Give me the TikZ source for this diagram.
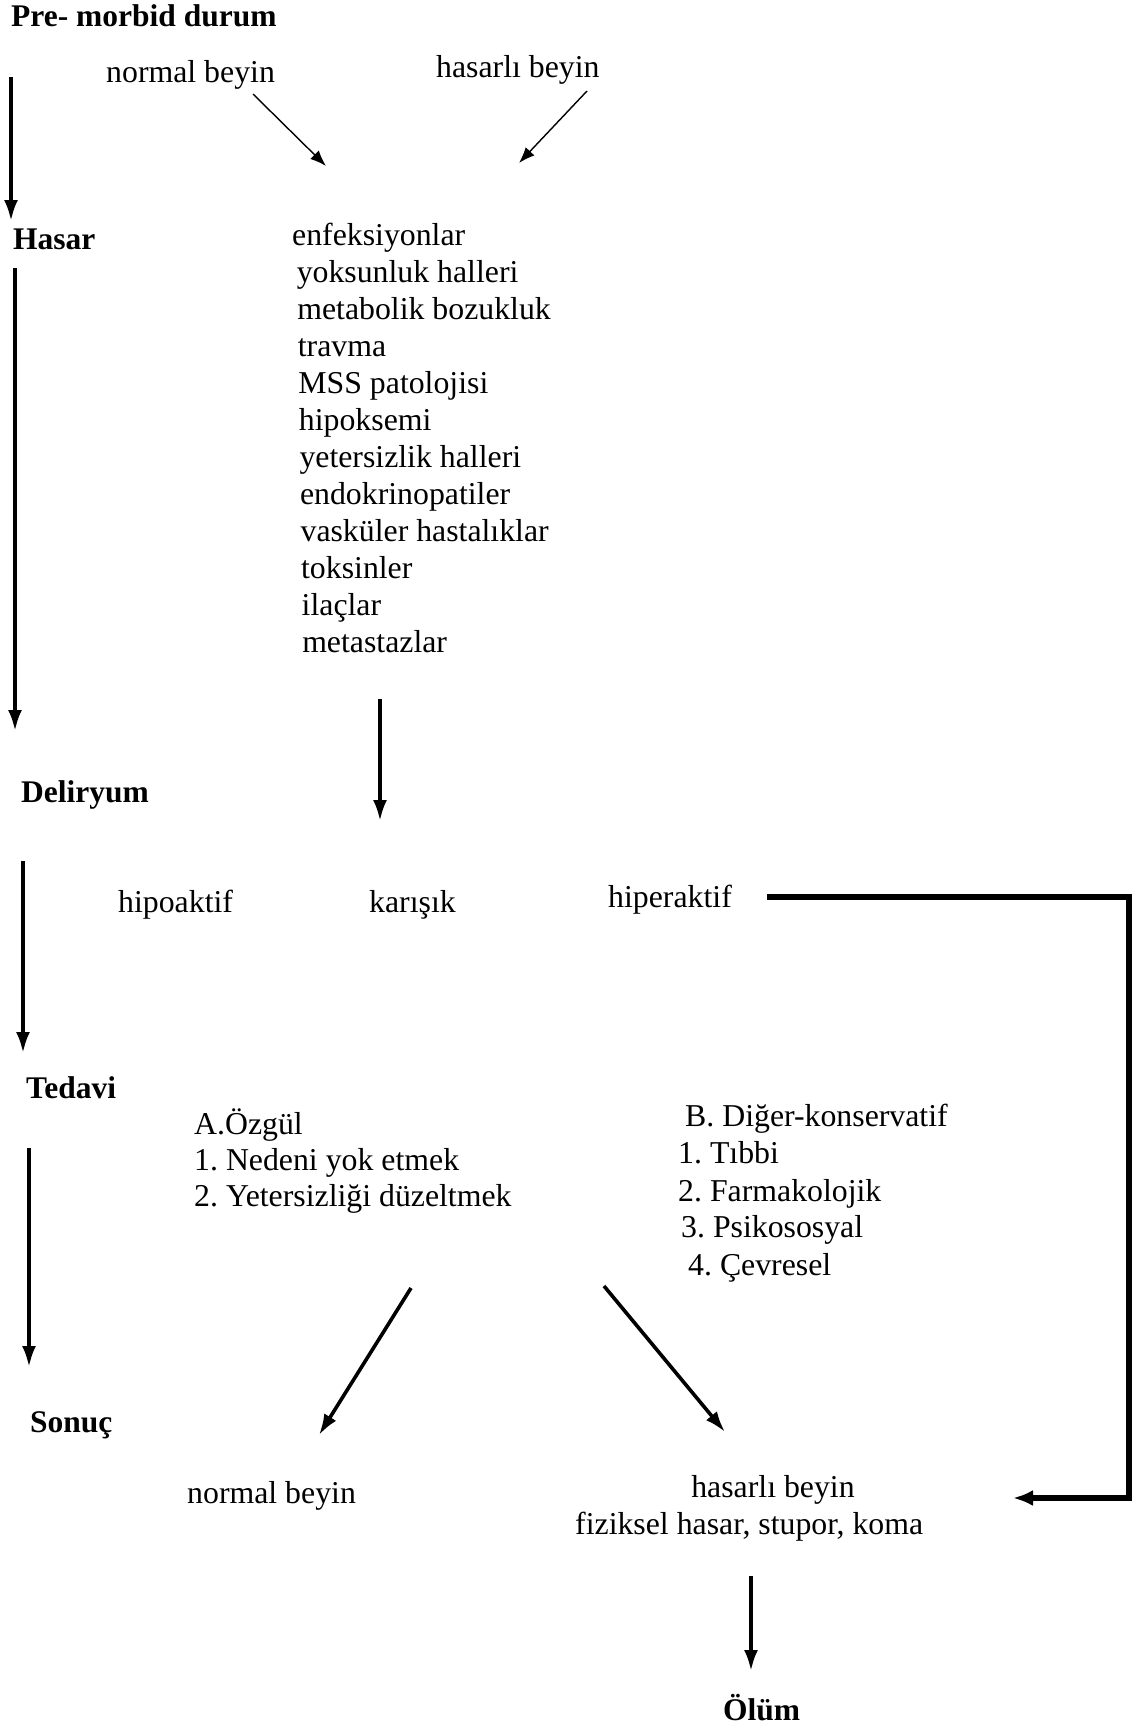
\documentclass[tikz,border=0pt]{standalone}
\usepackage{fontspec}
\setmainfont{Liberation Serif}
\usetikzlibrary{arrows.meta}
\frenchspacing
\begin{document}
\frenchspacing
\begin{tikzpicture}[x=1pt,y=-1pt,
  txt/.style={anchor=base west,inner sep=0pt,font=\fontsize{31.8}{37}\selectfont},
  hd/.style={anchor=base west,inner sep=0pt,font=\fontsize{31.5}{37}\selectfont\bfseries},
  thinarrow/.style={line width=1.4pt,-{Latex[length=16pt,width=12pt]}},
  thickarrow/.style={line width=3.6pt,-{Latex[length=21pt,width=14pt]}},
  heavyline/.style={line width=5.5pt},
]
\useasboundingbox (0,0) rectangle (1148,1730);

% left column headings
\node[hd] (pre) at (11,26) {Pre- morbid durum};
\node[hd] (hasar) at (13,249) {Hasar};
\node[hd] (deliryum) at (21,802) {Deliryum};
\node[hd] (tedavi) at (26,1098) {Tedavi};
\node[hd] (sonuc) at (30,1432) {Sonuç};
\node[hd] (olum) at (723,1720) {Ölüm};

% left column arrows
\coordinate (a1s) at (11,77);   \coordinate (a1e) at (11,221);
\coordinate (a2s) at (15,268);  \coordinate (a2e) at (15,731);
\coordinate (a3s) at (23,861);  \coordinate (a3e) at (23,1053);
\coordinate (a4s) at (29,1148); \coordinate (a4e) at (29,1367);
\draw[thickarrow] (a1s) -- (a1e);
\draw[thickarrow] (a2s) -- (a2e);
\draw[thickarrow] (a3s) -- (a3e);
\draw[thickarrow] (a4s) -- (a4e);

% pre-morbid
\node[txt] (nb1) at (106,82) {normal beyin};
\node[txt] (hb1) at (436,77) {hasarlı beyin};
\coordinate (t1s) at (253,94);  \coordinate (t1e) at (326,166);
\coordinate (t2s) at (587,91);  \coordinate (t2e) at (519,163);
\draw[thinarrow] (t1s) -- (t1e);
\draw[thinarrow] (t2s) -- (t2e);

% causes list
\foreach \t [count=\i from 0] in {enfeksiyonlar,yoksunluk halleri,metabolik bozukluk,travma,MSS patolojisi,hipoksemi,yetersizlik halleri,endokrinopatiler,vasküler hastalıklar,toksinler,ilaçlar,metastazlar}{
  \pgfmathsetmacro{\xx}{\i==0 ? 292 : 296+0.55*\i}
  \node[txt] (c\i) at (\xx,245+37*\i) {\t};
}
\coordinate (m1s) at (380,699); \coordinate (m1e) at (380,821);
\draw[thickarrow] (m1s) -- (m1e);

% delirium types
\node[txt] (hipo) at (118,912) {hipoaktif};
\node[txt] (karisik) at (369,912) {karışık};
\node[txt] (hiper) at (608,907) {hiperaktif};

% treatment
\node[txt] (a0) at (194,1134) {A.Özgül};
\node[txt] (a1) at (194,1170) {1. Nedeni yok etmek};
\node[txt] (a2) at (194,1206) {2. Yetersizliği düzeltmek};
\node[txt] (b0) at (685,1126) {B. Diğer-konservatif};
\node[txt] (b1) at (678,1163) {1. Tıbbi};
\node[txt] (b2) at (678,1201) {2. Farmakolojik};
\node[txt] (b3) at (681,1237) {3. Psikososyal};
\node[txt] (b4) at (688,1275) {4. Çevresel};

% outcomes
\node[txt] (nb2) at (187,1503) {normal beyin};
\node[txt,anchor=base] (hb2) at (773,1497) {hasarlı beyin};
\node[txt] (fiz) at (575,1534) {fiziksel hasar, stupor, koma};

\coordinate (o1s) at (411,1288); \coordinate (o1e) at (319,1435);
\coordinate (o2s) at (604,1286); \coordinate (o2e) at (725,1432);
\draw[thickarrow] (o1s) -- (o1e);
\draw[thickarrow] (o2s) -- (o2e);
\coordinate (d1s) at (751,1576); \coordinate (d1e) at (751,1671);
\draw[thickarrow] (d1s) -- (d1e);

% hiperaktif bypass
\coordinate (h0) at (767,897);
\coordinate (h1) at (1129,897);
\coordinate (h2) at (1129,1498);
\coordinate (h3) at (1013,1498);
\draw[heavyline,line join=miter] (h0) -- (h1) -- (h2) -- (1060,1498);
\draw[line width=5.5pt,-{Latex[length=20pt,width=16pt]}] (1062,1498) -- (h3);
\end{tikzpicture}
\end{document}
